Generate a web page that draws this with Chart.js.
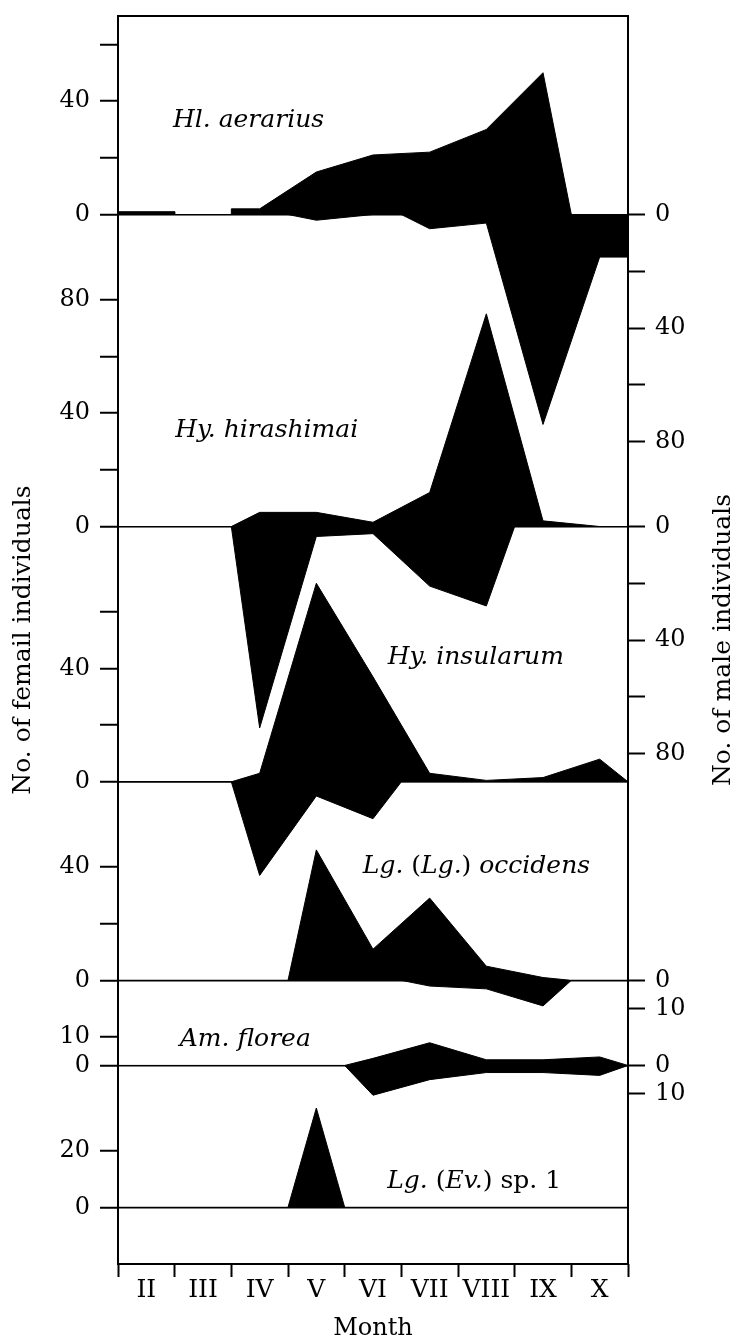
<!DOCTYPE html>
<html>
<head>
<meta charset="utf-8">
<title>Monthly occurrence</title>
<script src="https://cdn.jsdelivr.net/npm/chart.js@4.4.1/dist/chart.umd.min.js"></script>
<style>
  html, body { margin: 0; padding: 0; background: #fff; }
  canvas { display: block; }
</style>
</head>
<body>
<canvas id="chart" width="738" height="1343"></canvas>
<script>
// Months, one per bin. Month position 0 = II ... 8 = X, .5 values are the bin edges
const months = ['II', 'III', 'IV', 'V', 'VI', 'VII', 'VIII', 'IX', 'X'];

// Species, top panel first
const species = ['Hl. aerarius', 'Hy. hirashimai', 'Hy. insularum', 'Lg. (Lg.) occidens', 'Am. florea', 'Lg. (Ev.) sp. 1'];

// Zero line of every panel on the shared count axis
const panelZero = [370, 260, 170, 100, 70, 20];
const axisTop = 440;

// Females (drawn upwards) - [month position, individuals]
const aerariusFemale = [[-0.5, 1], [0.5, 1], [0.5, 0], [1.5, 0], [1.5, 2], [2, 2], [3, 15], [4, 21], [5, 22], [6, 30], [7, 50], [7.5, 0], [8.5, 0]];
const hirashimaiFemale = [[-0.5, 0], [1.5, 0], [2, 5], [3, 5], [4, 1.5], [5, 12], [6, 75], [7, 2], [8, 0], [8.5, 0]];
const insularumFemale = [[-0.5, 0], [1.5, 0], [2, 3], [3, 70], [4, 37], [5, 3], [6, 0.5], [7, 1.5], [8, 8], [8.5, 0]];
const occidensFemale = [[-0.5, 0], [2.5, 0], [3, 46], [4, 11], [5, 29], [6, 5], [7, 1], [7.5, 0], [8.5, 0]];
const floreaFemale = [[-0.5, 0], [3.5, 0], [4, 2.5], [5, 8], [6, 2], [7, 2], [8, 3], [8.5, 0]];
const sp1Female = [[-0.5, 0], [2.5, 0], [3, 35], [3.5, 0], [8.5, 0]];

// Males (drawn downwards)
const aerariusMale = [[-0.5, 0], [2.5, 0], [3, 2], [4, 0], [4.5, 0], [5, 5], [6, 3], [7, 74], [8, 15], [8.5, 15]];
const hirashimaiMale = [[-0.5, 0], [1.5, 0], [2, 71], [3, 3.5], [4, 2.5], [5, 21], [6, 28], [6.5, 0], [8.5, 0]];
const insularumMale = [[-0.5, 0], [1.5, 0], [2, 33], [3, 5], [4, 13], [4.5, 0], [8.5, 0]];
const occidensMale = [[-0.5, 0], [4.5, 0], [5, 2], [6, 3], [7, 9], [7.5, 0], [8.5, 0]];
const floreaMale = [[-0.5, 0], [3.5, 0], [4, 10.5], [5, 5], [6, 2.5], [7, 2.5], [8, 3.5], [8.5, 0]];
const sp1Male = [];

const femaleSeries = [aerariusFemale, hirashimaiFemale, insularumFemale, occidensFemale, floreaFemale, sp1Female];
const maleSeries = [aerariusMale, hirashimaiMale, insularumMale, occidensMale, floreaMale, sp1Male];

// Tick marks per panel and the ones that carry a number
const femaleTicks = [[0, 20, 40, 60], [0, 20, 40, 60, 80], [0, 20, 40, 60], [0, 20, 40], [0, 10], [0, 20]];
const femaleLabeled = [[0, 40], [0, 40, 80], [0, 40], [0, 40], [0, 10], [0, 20]];
const maleTicks = [[0, 20, 40, 60, 80], [0, 20, 40, 60, 80], [], [0, 10], [0, 10], []];
const maleLabeled = [[0, 40, 80], [0, 40, 80], [], [0, 10], [0, 10], []];

// Where the species names sit: [month position, individuals above the panel zero]
const namePos = [[0.47, 33], [0.51, 34], [4.26, 44], [3.82, 40], [0.59, 9], [4.25, 9]];

const serif = '"DejaVu Serif", serif';

document.addEventListener('DOMContentLoaded', function() {
    drawChart();
});

function buildTicks(tickLists, labeledLists, sign) {
    const ticks = [];
    const labels = new Map();
    tickLists.forEach((list, p) => {
        list.forEach(v => {
            const value = panelZero[p] + sign * v;
            ticks.push(value);
            labels.set(value, labeledLists[p].includes(v) ? String(v) : '');
        });
    });
    ticks.sort((a, b) => a - b);
    return { ticks, labels };
}

function areaDataset(points, zero, sign) {
    return {
        data: points.map(([m, n]) => ({ x: m, y: zero + sign * n })),
        fill: { value: zero },
        backgroundColor: '#000',
        borderColor: '#000',
        borderWidth: 1,
        pointRadius: 0,
        tension: 0
    };
}

// Italic species names, brackets and "sp. 1" upright
function nameRuns(name) {
    const runs = [];
    const re = /(\(|\)|sp\. \d+)/g;
    let last = 0, m;
    while ((m = re.exec(name)) !== null) {
        if (m.index > last) runs.push([name.slice(last, m.index), true]);
        runs.push([m[0], false]);
        last = m.index + m[0].length;
    }
    if (last < name.length) runs.push([name.slice(last), true]);
    return runs;
}

// keep the plot frame where the figure has it (no extra room for tick labels)
function fixSize(size) {
    return scale => {
        if (scale.isHorizontal()) scale.height = size; else scale.width = size;
        scale.paddingTop = 0;
        scale.paddingBottom = 0;
        scale.paddingLeft = 0;
        scale.paddingRight = 0;
    };
}

const labelsPlugin = {
    id: 'labels',
    afterDatasetsDraw(chart) {
        const { ctx, chartArea, scales } = chart;
        ctx.save();
        // frame
        ctx.strokeStyle = '#000';
        ctx.lineWidth = 2;
        ctx.strokeRect(chartArea.left, chartArea.top, chartArea.right - chartArea.left, chartArea.bottom - chartArea.top);

        // species names
        ctx.fillStyle = '#000';
        ctx.textBaseline = 'middle';
        ctx.textAlign = 'left';
        species.forEach((name, p) => {
            let x = scales.x.getPixelForValue(namePos[p][0]);
            const y = scales.y.getPixelForValue(panelZero[p] + namePos[p][1]);
            nameRuns(name).forEach(([text, italic]) => {
                ctx.font = (italic ? 'italic ' : '') + '25px ' + serif;
                ctx.fillText(text, x, y);
                x += ctx.measureText(text).width;
            });
        });

        // right axis title, read from bottom to top like the left one
        ctx.font = '25px ' + serif;
        ctx.textAlign = 'center';
        ctx.translate(723, (chartArea.top + chartArea.bottom) / 2);
        ctx.rotate(-Math.PI / 2);
        ctx.fillText('No. of male individuals', 0, 0);
        ctx.restore();
    }
};

function drawChart() {
    const left = buildTicks(femaleTicks, femaleLabeled, 1);
    const right = buildTicks(maleTicks, maleLabeled, -1);

    const xTicks = [];
    for (let v = -0.5; v <= months.length - 0.5; v += 0.5) xTicks.push(v);

    const datasets = [];
    species.forEach((name, p) => {
        datasets.push(areaDataset(femaleSeries[p], panelZero[p], 1));
        if (maleSeries[p].length) datasets.push(areaDataset(maleSeries[p], panelZero[p], -1));
    });

    const ctx = document.getElementById('chart').getContext('2d');
    new Chart(ctx, {
        type: 'line',
        data: { datasets },
        options: {
            responsive: false,
            animation: false,
            devicePixelRatio: 1,
            layout: { padding: { top: 16, left: 0, right: 0, bottom: 0 } },
            plugins: { legend: { display: false }, tooltip: { enabled: false } },
            scales: {
                x: {
                    type: 'linear',
                    min: -0.5,
                    max: months.length - 0.5,
                    afterBuildTicks: scale => { scale.ticks = xTicks.map(v => ({ value: v })); },
                    afterFit: fixSize(79),
                    border: { display: false },
                    grid: {
                        drawOnChartArea: false,
                        tickLength: 13,
                        tickWidth: 2,
                        tickColor: c => Number.isInteger(c.tick.value) ? 'rgba(0,0,0,0)' : '#000'
                    },
                    ticks: {
                        autoSkip: false,
                        maxRotation: 0,
                        padding: -2,
                        color: '#000',
                        font: { family: serif, size: 25 },
                        callback: value => Number.isInteger(value) ? months[value] : ''
                    },
                    title: {
                        display: true,
                        text: 'Month',
                        color: '#000',
                        font: { family: serif, size: 24 },
                        padding: { top: 0, bottom: 0 }
                    }
                },
                y: {
                    type: 'linear',
                    position: 'left',
                    min: 0,
                    max: axisTop,
                    afterBuildTicks: scale => { scale.ticks = left.ticks.map(v => ({ value: v })); },
                    afterFit: fixSize(118),
                    border: { display: false },
                    grid: {
                        lineWidth: 1.5,
                        color: c => panelZero.includes(c.tick.value) ? '#000' : 'rgba(0,0,0,0)',
                        tickColor: '#000',
                        tickWidth: 2,
                        tickLength: 18
                    },
                    ticks: {
                        padding: 10,
                        color: '#000',
                        font: { family: serif, size: 24 },
                        callback: value => left.labels.get(value) || ''
                    },
                    title: {
                        display: true,
                        text: 'No. of femail individuals',
                        color: '#000',
                        font: { family: serif, size: 25 },
                        padding: { top: 8, bottom: 0 }
                    }
                },
                y2: {
                    type: 'linear',
                    position: 'right',
                    min: 0,
                    max: axisTop,
                    afterBuildTicks: scale => { scale.ticks = right.ticks.map(v => ({ value: v })); },
                    afterFit: fixSize(110),
                    border: { display: false },
                    grid: {
                        drawOnChartArea: false,
                        tickColor: '#000',
                        tickWidth: 2,
                        tickLength: 17
                    },
                    ticks: {
                        padding: 10,
                        color: '#000',
                        font: { family: serif, size: 24 },
                        callback: value => right.labels.get(value) || ''
                    }
                }
            }
        },
        plugins: [labelsPlugin]
    });
}
</script>
</body>
</html>
